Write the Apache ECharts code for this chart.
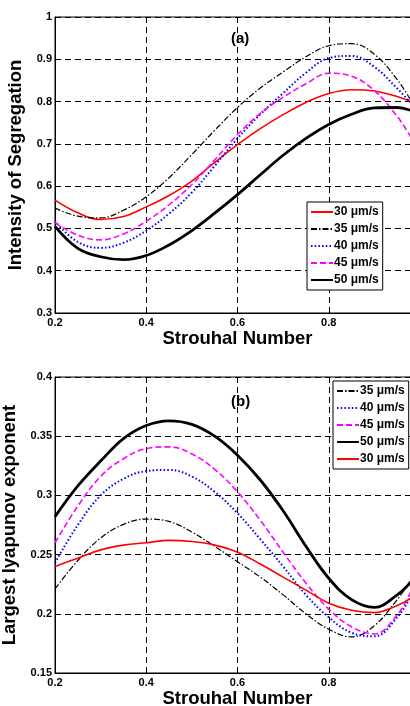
<!DOCTYPE html>
<html>
<head>
<meta charset="utf-8">
<script src="https://cdn.jsdelivr.net/npm/echarts@6/dist/echarts.min.js"></script>
<style>
  html, body { margin: 0; padding: 0; background: #fff; }
  #chart { width: 410px; height: 706px; }
</style>
</head>
<body>
<div id="chart"></div>
<script>
// Strouhal number samples (shared by both panels)
var strouhal = [0.2, 0.25, 0.3, 0.35, 0.4, 0.45, 0.5, 0.55, 0.6, 0.65, 0.7, 0.75, 0.8, 0.85, 0.9, 0.95, 0.98]

// (a) intensity of segregation
var seg30 = [0.567, 0.537, 0.521, 0.528, 0.551, 0.578, 0.612, 0.656, 0.698, 0.736, 0.769, 0.798, 0.819, 0.828, 0.825, 0.812, 0.800]
var seg35 = [0.548, 0.529, 0.525, 0.543, 0.575, 0.620, 0.675, 0.732, 0.786, 0.832, 0.870, 0.906, 0.932, 0.937, 0.912, 0.852, 0.803]
var seg40 = [0.517, 0.468, 0.454, 0.466, 0.495, 0.535, 0.585, 0.648, 0.713, 0.770, 0.820, 0.868, 0.903, 0.908, 0.882, 0.831, 0.797]
var seg45 = [0.514, 0.484, 0.473, 0.487, 0.517, 0.556, 0.604, 0.662, 0.722, 0.772, 0.810, 0.842, 0.867, 0.860, 0.826, 0.765, 0.716]
var seg50 = [0.505, 0.453, 0.433, 0.426, 0.436, 0.461, 0.495, 0.536, 0.580, 0.627, 0.673, 0.713, 0.746, 0.770, 0.785, 0.786, 0.779]

// (b) largest lyapunov exponent
var lya30 = [0.240, 0.247, 0.254, 0.258, 0.260, 0.262, 0.261, 0.258, 0.252, 0.242, 0.231, 0.220, 0.209, 0.203, 0.201, 0.207, 0.213]
var lya35 = [0.221, 0.245, 0.264, 0.2755, 0.280, 0.278, 0.269, 0.257, 0.244, 0.231, 0.216, 0.200, 0.187, 0.1805, 0.190, 0.212, 0.228]
var lya40 = [0.243, 0.275, 0.300, 0.314, 0.3205, 0.3215, 0.316, 0.303, 0.285, 0.263, 0.240, 0.216, 0.197, 0.184, 0.181, 0.197, 0.215]
var lya45 = [0.260, 0.291, 0.316, 0.331, 0.3395, 0.341, 0.335, 0.322, 0.303, 0.279, 0.252, 0.226, 0.204, 0.189, 0.183, 0.199, 0.219]
var lya50 = [0.282, 0.308, 0.329, 0.348, 0.359, 0.363, 0.360, 0.350, 0.334, 0.313, 0.287, 0.257, 0.230, 0.212, 0.2055, 0.216, 0.227]

var FONT = 'Liberation Sans, Arial, sans-serif'

function pairs(ys) {
  return strouhal.map(function (x, i) { return [x, ys[i]] })
}

// line looks for each speed
var looks = {
  '30 μm/s': { color: '#ff0000', width: 1.6, type: 'solid' },
  '35 μm/s': { color: '#000000', width: 1.2, type: [6, 2, 1.5, 2] },
  '40 μm/s': { color: '#0000ff', width: 2, type: [1.5, 2.2] },
  '45 μm/s': { color: '#ff00ff', width: 1.6, type: [6, 3] },
  '50 μm/s': { color: '#000000', width: 2.8, type: 'solid' }
}

function mkSeries(name, ys, idx) {
  var l = looks[name]
  return {
    name: name,
    type: 'line',
    xAxisIndex: idx,
    yAxisIndex: idx,
    smooth: 0.4,
    showSymbol: false,
    symbol: 'none',
    color: l.color,
    lineStyle: { color: l.color, width: l.width, type: l.type },
    data: pairs(ys)
  }
}

function mkX(idx) {
  return {
    type: 'value',
    gridIndex: idx,
    min: 0.2,
    max: 1,
    interval: 0.2,
    name: 'Strouhal Number',
    nameLocation: 'middle',
    nameGap: 16,
    nameTextStyle: { fontFamily: FONT, fontWeight: 'bold', fontSize: 18.5, color: '#000' },
    axisLine: { show: true, lineStyle: { color: '#000', width: 1 } },
    axisTick: { show: true, inside: true, length: 4, lineStyle: { color: '#000' } },
    axisLabel: {
      margin: 4, color: '#000', fontFamily: FONT, fontWeight: 'bold', fontSize: 11,
      formatter: function (v) { return String(Math.round(v * 10) / 10) }
    },
    splitLine: { show: true, lineStyle: { color: '#000', width: 1, type: [6, 4] } }
  }
}

function mkY(idx, min, max, step, name, gap) {
  return {
    type: 'value',
    gridIndex: idx,
    min: min,
    max: max,
    interval: step,
    name: name,
    nameLocation: 'middle',
    nameGap: gap,
    nameTextStyle: { fontFamily: FONT, fontWeight: 'bold', fontSize: 18.5, color: '#000' },
    axisLine: { show: true, lineStyle: { color: '#000', width: 1 } },
    axisTick: { show: true, inside: true, length: 4, lineStyle: { color: '#000' } },
    axisLabel: {
      margin: 3, color: '#000', fontFamily: FONT, fontWeight: 'bold', fontSize: 11,
      formatter: function (v) { return String(Math.round(v * 100) / 100) }
    },
    splitLine: { show: true, lineStyle: { color: '#000', width: 1, type: [6, 4] } }
  }
}

function mkLegend(names, left, top) {
  return {
    orient: 'vertical',
    left: left,
    top: top,
    data: names,
    itemWidth: 22,
    itemHeight: 10,
    itemGap: 5,
    padding: [4, 4, 4, 3],
    borderColor: '#000',
    borderWidth: 1,
    borderRadius: 0,
    backgroundColor: '#fff',
    selectedMode: false,
    itemStyle: { color: 'transparent', borderWidth: 0, opacity: 0 },
    textStyle: { fontFamily: FONT, fontWeight: 'bold', fontSize: 12, color: '#000', padding: [0, 0, 0, -4] }
  }
}

var myChart = echarts.init(document.getElementById('chart'), null, { renderer: 'canvas' })

var option = {
  backgroundColor: '#fff',
  animation: false,
  title: [
    { text: '(a)', left: 226, top: 26, textStyle: { fontFamily: FONT, fontWeight: 'bold', fontSize: 15, color: '#000' } },
    { text: '(b)', left: 226, top: 389, textStyle: { fontFamily: FONT, fontWeight: 'bold', fontSize: 15, color: '#000' } }
  ],
  grid: [
    { left: 55, top: 17, width: 365, height: 296, outerBoundsMode: 'none', show: true, borderColor: '#000', borderWidth: 1, backgroundColor: 'transparent' },
    { left: 55, top: 377, width: 365, height: 296, outerBoundsMode: 'none', show: true, borderColor: '#000', borderWidth: 1, backgroundColor: 'transparent' }
  ],
  xAxis: [mkX(0), mkX(1)],
  yAxis: [
    mkY(0, 0.3, 1, 0.1, 'Intensity of Segregation', 21),
    mkY(1, 0.15, 0.4, 0.05, 'Largest lyapunov exponent', 28)
  ],
  legend: [
    mkLegend(['30 μm/s', '35 μm/s', '40 μm/s', '45 μm/s', '50 μm/s'], 307, 202),
    mkLegend(['35 μm/s', '40 μm/s', '45 μm/s', '50 μm/s', '30 μm/s'], 333, 381)
  ],
  series: [
    mkSeries('30 μm/s', seg30, 0),
    mkSeries('35 μm/s', seg35, 0),
    mkSeries('40 μm/s', seg40, 0),
    mkSeries('45 μm/s', seg45, 0),
    mkSeries('50 μm/s', seg50, 0),
    mkSeries('35 μm/s', lya35, 1),
    mkSeries('40 μm/s', lya40, 1),
    mkSeries('45 μm/s', lya45, 1),
    mkSeries('50 μm/s', lya50, 1),
    mkSeries('30 μm/s', lya30, 1)
  ]
}

myChart.setOption(option)
</script>
</body>
</html>
